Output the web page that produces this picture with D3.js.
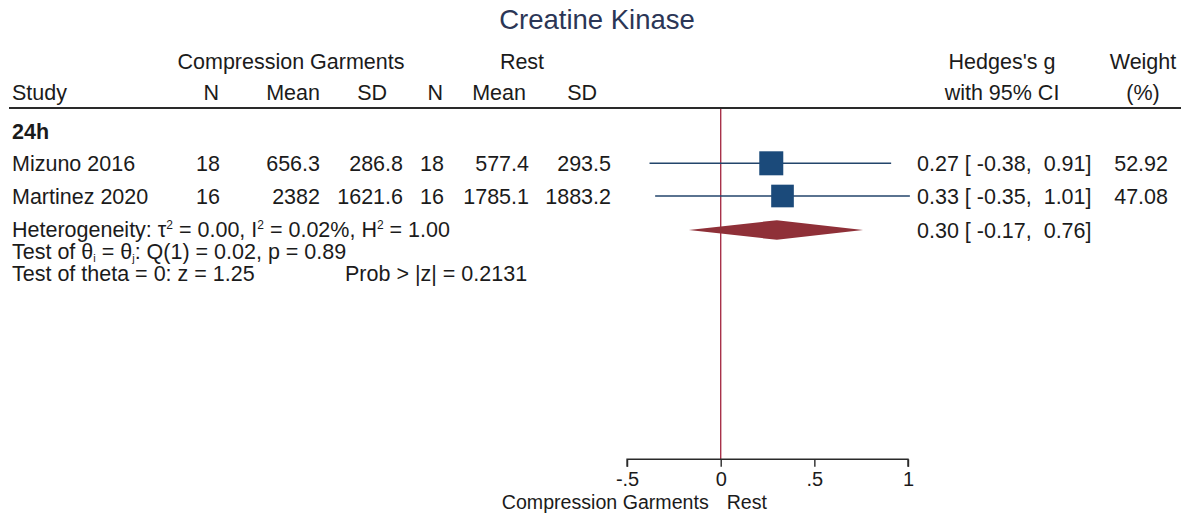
<!DOCTYPE html>
<html>
<head>
<meta charset="utf-8">
<script src="https://cdn.jsdelivr.net/npm/d3@7"></script>
<style>
  html, body { margin: 0; padding: 0; background: #fff; }
  svg text { font-family: "Liberation Sans", Arial, Helvetica, sans-serif; fill: #1b1b1b; white-space: pre; }
</style>
</head>
<body>
<svg id="chart" width="1192" height="519"></svg>
<script>
// Study-level data for the creatine kinase comparison (24h)
const studies   = ["Mizuno 2016", "Martinez 2020"];
const cgN       = ["18", "16"];
const cgMean    = ["656.3", "2382"];
const cgSD      = ["286.8", "1621.6"];
const restN     = ["18", "16"];
const restMean  = ["577.4", "1785.1"];
const restSD    = ["293.5", "1883.2"];
const effect    = [0.27, 0.33];
const ciLow     = [-0.38, -0.35];
const ciHigh    = [0.91, 1.01];
const weights   = [52.92, 47.08];

// Pooled estimate
const pooled    = [0.30];
const pooledLow = [-0.17];
const pooledHigh= [0.76];

// Axis
const xTicks      = [-0.5, 0, 0.5, 1];
const xTickLabels = ["-.5", "0", ".5", "1"];

const svg = d3.select("#chart");
const FS = 21.5;

const x = d3.scaleLinear().domain([-0.5, 1]).range([627.05, 908]);
const rowY = d3.scalePoint().domain(studies).range([163.3, 196]);
const pooledY = 230;

// two decimals with a plain hyphen for negatives
const fmt2 = d3.format(".2f");
const fmt = v => fmt2(v).replace("\u2212", "-");

// Title
svg.append("text")
  .attr("x", 597).attr("y", 29)
  .attr("text-anchor", "middle")
  .style("font-size", "27.5px")
  .style("fill", "#2b3656")
  .text("Creatine Kinase");

// Column headers
const hdr1 = [
  {t: "Compression Garments", x: 291, a: "middle"},
  {t: "Rest", x: 522, a: "middle"},
  {t: "Hedges's g", x: 1002, a: "middle"},
  {t: "Weight", x: 1143, a: "middle"}
];
const hdr2 = [
  {t: "Study", x: 12, a: "start"},
  {t: "N", x: 219, a: "end"},
  {t: "Mean", x: 320, a: "end"},
  {t: "SD", x: 387, a: "end"},
  {t: "N", x: 443, a: "end"},
  {t: "Mean", x: 526, a: "end"},
  {t: "SD", x: 597, a: "end"},
  {t: "with 95% CI", x: 1002, a: "middle"},
  {t: "(%)", x: 1143, a: "middle"}
];
svg.selectAll("text.h1").data(hdr1).join("text")
  .attr("class", "h1")
  .attr("x", d => d.x).attr("y", 69)
  .attr("text-anchor", d => d.a)
  .style("font-size", FS + "px")
  .text(d => d.t);
svg.selectAll("text.h2").data(hdr2).join("text")
  .attr("class", "h2")
  .attr("x", d => d.x).attr("y", 100)
  .attr("text-anchor", d => d.a)
  .style("font-size", FS + "px")
  .text(d => d.t);

// Header rule
svg.append("line")
  .attr("x1", 9).attr("x2", 1181)
  .attr("y1", 108).attr("y2", 108)
  .attr("stroke", "#2a2a2a").attr("stroke-width", 2);

// Group label
svg.append("text")
  .attr("x", 12).attr("y", 139)
  .style("font-size", FS + "px")
  .style("font-weight", "bold")
  .text("24h");

// Reference line at zero
svg.append("line")
  .attr("x1", x(0)).attr("x2", x(0))
  .attr("y1", 109).attr("y2", 459.3)
  .attr("stroke", "#a8324a").attr("stroke-width", 1.4);

// Study rows: table columns
const cols = [
  {v: cgN, x: 220}, {v: cgMean, x: 320}, {v: cgSD, x: 403},
  {v: restN, x: 444}, {v: restMean, x: 529}, {v: restSD, x: 611}
];
const rows = svg.selectAll("g.row").data(studies).join("g")
  .attr("class", "row")
  .attr("transform", d => `translate(0,${rowY(d)})`);

rows.append("text")
  .attr("x", 12).attr("y", 7.6)
  .style("font-size", FS + "px")
  .text(d => d);

cols.forEach(c => {
  rows.append("text")
    .attr("x", c.x).attr("y", 7.6)
    .attr("text-anchor", "end")
    .style("font-size", FS + "px")
    .text((d, i) => c.v[i]);
});

// CI lines and weighted squares
rows.append("line")
  .attr("x1", (d, i) => x(ciLow[i]))
  .attr("x2", (d, i) => x(ciHigh[i]))
  .attr("y1", 0).attr("y2", 0)
  .attr("stroke", "#23456b").attr("stroke-width", 1.4);

const side = w => 3.3 * Math.sqrt(w);
rows.append("rect")
  .attr("x", (d, i) => x(effect[i]) - side(weights[i]) / 2)
  .attr("y", (d, i) => -side(weights[i]) / 2)
  .attr("width", (d, i) => side(weights[i]))
  .attr("height", (d, i) => side(weights[i]))
  .attr("fill", "#1b4a7a");

rows.append("text")
  .attr("x", 917).attr("y", 7.6)
  .style("font-size", FS + "px")
  .text((d, i) => `${fmt(effect[i])} [ ${fmt(ciLow[i])},  ${fmt(ciHigh[i])}]`);

rows.append("text")
  .attr("x", 1168).attr("y", 7.6)
  .attr("text-anchor", "end")
  .style("font-size", FS + "px")
  .text((d, i) => fmt(weights[i]));

// Pooled diamond
const dh = 9.8;
svg.append("path")
  .attr("d", d3.line()([
    [x(pooledLow[0]), pooledY],
    [x(pooled[0]), pooledY - dh],
    [x(pooledHigh[0]), pooledY],
    [x(pooled[0]), pooledY + dh]
  ]) + "Z")
  .attr("fill", "#8f3038");

svg.append("text")
  .attr("x", 917).attr("y", pooledY + 7.6)
  .style("font-size", FS + "px")
  .text(`${fmt(pooled[0])} [ ${fmt(pooledLow[0])},  ${fmt(pooledHigh[0])}]`);

// Heterogeneity and test statistics
const het = svg.append("text").attr("x", 12).attr("y", 237).style("font-size", FS + "px");
het.append("tspan").text("Heterogeneity: τ");
het.append("tspan").attr("dy", -8).style("font-size", "12px").text("2");
het.append("tspan").attr("dy", 8).text(" = 0.00, I");
het.append("tspan").attr("dy", -8).style("font-size", "12px").text("2");
het.append("tspan").attr("dy", 8).text(" = 0.02%, H");
het.append("tspan").attr("dy", -8).style("font-size", "12px").text("2");
het.append("tspan").attr("dy", 8).text(" = 1.00");

const tq = svg.append("text").attr("x", 12).attr("y", 259).style("font-size", FS + "px");
tq.append("tspan").text("Test of θ");
tq.append("tspan").attr("dy", 3).style("font-size", "11px").text("i");
tq.append("tspan").attr("dy", -3).text(" = θ");
tq.append("tspan").attr("dy", 3).style("font-size", "11px").text("j");
tq.append("tspan").attr("dy", -3).text(": Q(1) = 0.02, p = 0.89");

svg.append("text").attr("x", 12).attr("y", 281).style("font-size", FS + "px")
  .text("Test of theta = 0: z = 1.25");
svg.append("text").attr("x", 345).attr("y", 281).style("font-size", FS + "px")
  .text("Prob > |z| = 0.2131");

// Bottom axis with downward ticks
const axisG = svg.append("g")
  .attr("transform", "translate(0,459.3)")
  .call(d3.axisBottom(x).tickValues(xTicks).tickSize(7.5).tickPadding(5)
        .tickFormat((d, i) => xTickLabels[i]));
axisG.select(".domain").attr("stroke", "#2a2a2a").attr("stroke-width", 1.4)
  .attr("d", `M${x(-0.5)},7.5V0H${x(1)}V7.5`);
axisG.selectAll(".tick line").attr("stroke", "#2a2a2a").attr("stroke-width", 1.4);
axisG.selectAll(".tick text")
  .style("font-size", "20px")
  .style("font-family", "'Liberation Sans', Arial, sans-serif")
  .attr("fill", "#1b1b1b");

// Direction labels under the axis
svg.append("text").attr("x", x(0) - 12).attr("y", 509)
  .attr("text-anchor", "end").style("font-size", "19.6px")
  .text("Compression Garments");
svg.append("text").attr("x", x(0) + 6).attr("y", 509)
  .style("font-size", "19.6px")
  .text("Rest");
</script>
</body>
</html>
